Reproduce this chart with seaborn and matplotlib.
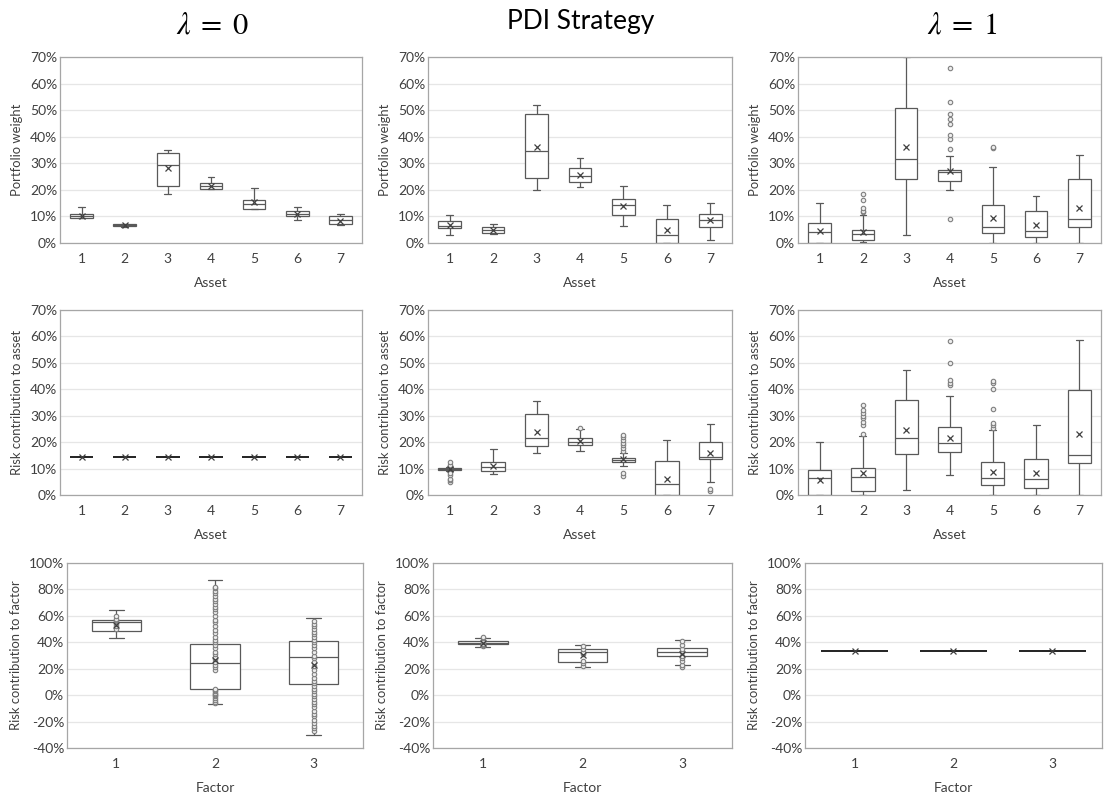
import numpy as np
import pandas as pd
import matplotlib
matplotlib.use("Agg")
import matplotlib.pyplot as plt
import seaborn as sns
from matplotlib.ticker import FuncFormatter, MultipleLocator

# ---------------- data (percent) ----------------
assets = ["1", "2", "3", "4", "5", "6", "7"]
factors = ["1", "2", "3"]

# five-number summaries per category: [whisker low, Q1, median, Q3, whisker high]
wt_lam0_box = [[9.3, 9.5, 10.0, 11.0, 13.4], [6.0, 6.4, 6.7, 7.0, 7.3], [18.4, 21.6, 29.4, 33.9, 35.1],
               [20.2, 20.4, 21.5, 22.6, 24.7], [12.7, 12.9, 14.8, 16.3, 20.7], [8.5, 10.0, 11.0, 12.0, 13.5],
               [6.8, 7.2, 8.5, 10.0, 11.0]]
wt_lam0_mean = [10.0, 6.7, 28.2, 21.5, 15.3, 10.8, 8.3]
wt_lam0_out = [[], [], [], [], [], [], []]

wt_pdi_box = [[3.0, 5.5, 6.5, 8.2, 10.5], [3.5, 3.8, 5.0, 5.9, 7.0], [20.0, 24.5, 34.6, 48.7, 51.9],
              [21.1, 23.1, 25.2, 28.1, 32.1], [6.3, 10.5, 14.3, 16.4, 21.5], [0.0, 0.0, 3.1, 9.0, 14.4],
              [1.1, 5.9, 8.5, 10.8, 15.0]]
wt_pdi_mean = [6.7, 5.0, 36.3, 25.7, 14.0, 4.8, 8.5]
wt_pdi_out = [[], [], [], [], [], [], []]

wt_lam1_box = [[0.0, 0.0, 4.1, 7.7, 15.0], [0.3, 1.0, 3.3, 5.0, 10.5], [3.0, 24.2, 31.5, 50.9, 70.0],
               [20.0, 23.3, 26.9, 27.6, 32.6], [0.0, 3.6, 5.9, 14.2, 28.5], [0.0, 2.3, 4.6, 12.0, 17.6],
               [0.0, 6.0, 9.0, 24.2, 33.2]]
wt_lam1_mean = [4.5, 4.3, 36.0, 27.2, 9.3, 6.6, 13.2]
wt_lam1_out = [[], [11.5, 12.0, 13.0, 16.0, 18.6], [],
               [9.2, 35.4, 39.0, 40.7, 44.8, 46.5, 48.6, 53.1, 65.9], [35.6, 36.2], [], []]

rc_lam0_box = [[14.29] * 5 for _ in assets]
rc_lam0_mean = [14.29] * 7
rc_lam0_out = [[], [], [], [], [], [], []]

rc_pdi_box = [[9.0, 9.4, 9.7, 10.1, 10.5], [8.1, 9.0, 10.7, 12.4, 17.5], [15.9, 18.5, 21.5, 30.5, 35.6],
              [16.5, 19.1, 20.2, 21.6, 24.9], [10.9, 12.4, 13.3, 14.1, 16.0], [0.0, 0.0, 4.1, 13.0, 21.0],
              [5.1, 13.5, 14.2, 20.0, 27.0]]
rc_pdi_mean = [9.7, 10.8, 24.0, 20.3, 13.6, 6.1, 15.9]
rc_pdi_out = [[5.0, 5.5, 6.0, 7.5, 8.5, 11.0, 11.5, 12.5], [], [], [25.5],
              [7.3, 8.5, 16.8, 17.8, 18.8, 19.8, 20.8, 21.8, 22.7], [], [1.5, 2.2]]

rc_lam1_box = [[0.0, 0.0, 6.5, 9.4, 20.0], [0.0, 1.5, 6.7, 10.1, 22.5], [1.9, 15.6, 21.5, 36.1, 47.2],
               [7.6, 16.3, 19.6, 25.8, 37.6], [0.0, 3.8, 6.3, 12.4, 24.6], [0.0, 2.8, 6.1, 13.8, 26.5],
               [0.0, 12.0, 15.3, 39.7, 58.7]]
rc_lam1_mean = [5.7, 8.4, 24.7, 21.5, 8.7, 8.2, 23.0]
rc_lam1_out = [[], [23.0, 26.5, 27.5, 29.0, 30.0, 31.0, 32.0, 34.0], [],
               [41.5, 42.5, 43.5, 49.9, 58.1], [25.5, 26.5, 27.2, 32.5, 40.1, 42.5, 43.3], [], []]

fc_lam0_box = [[43.5, 48.2, 55.5, 57.2, 64.5], [-6.5, 4.6, 24.3, 38.5, 87.5], [-29.9, 8.1, 28.9, 40.8, 58.2]]
fc_lam0_mean = [52.9, 26.6, 22.5]
fc_lam0_out = [[50, 52, 54, 56, 57, 58, 60],
               [-6, -5, -4, -2, -1, 0, 1, 2, 3, 4, 5, 19, 21, 23, 25, 27, 29, 31, 33, 36, 38, 40, 42, 44,
                47, 49, 52, 55, 57, 60, 63, 65, 67, 69, 71, 73, 75, 77, 79, 81, 82],
               [-27, -25, -23, -21, -19, -16, -14, -12, -9, -7, -5, -3, -1, 1, 3, 5, 7, 9, 11, 13, 16, 19,
                22, 25, 28, 30, 33, 36, 38, 40, 42, 44, 46, 48, 50, 52, 54, 56]]

fc_pdi_box = [[36.2, 38.6, 39.5, 40.6, 43.5], [21.5, 25.0, 32.4, 34.7, 38.2], [23.0, 29.6, 32.7, 35.9, 42.0]]
fc_pdi_mean = [39.5, 30.4, 31.5]
fc_pdi_out = [[37, 38, 39, 40, 41, 43, 44], [22, 24, 26, 31, 33, 35, 37], [21, 23, 26, 28, 30, 33, 35, 38, 41]]

fc_lam1_box = [[33.33] * 5 for _ in factors]
fc_lam1_mean = [33.33, 33.33, 33.33]
fc_lam1_out = [[], [], []]

titles = [r"$\lambda\;=\;0$", "PDI Strategy", r"$\lambda\;=\;1$"]

# ---------------- style ----------------
sns.set_style("white")
plt.rcParams["font.family"] = ["Lato", "DejaVu Sans"]
plt.rcParams["mathtext.fontset"] = "stix"

W, H = 1104, 798
fig = plt.figure(figsize=(W / 100, H / 100), dpi=100)


def pos(l, r, t, b):
    return [l / W, 1 - b / H, (r - l) / W, (b - t) / H]


LINE = "#595959"
TXT = "#404040"


def panel(rect, cats, box, means, outs, ylim, ystep, ylabel, xlabel, width, flat=False):
    ax = fig.add_axes(rect)
    rows = []
    for c, vals in zip(cats, box):
        for v in vals:
            rows.append((c, v))
    df = pd.DataFrame(rows, columns=["cat", "val"])
    sns.boxplot(data=df, x="cat", y="val", order=cats, whis=(0, 100), width=width,
                color="white", linecolor=("#262626" if flat else LINE),
                linewidth=(1.3 if flat else 0.9), showfliers=False,
                capwidths=width * 0.3, ax=ax)
    ox, oy = [], []
    for c, o in zip(cats, outs):
        for v in o:
            ox.append(c)
            oy.append(v)
    if ox:
        sns.stripplot(x=ox, y=oy, order=cats, jitter=False, size=3.2, color="#ededed",
                      edgecolor="#7f7f7f", linewidth=0.8, ax=ax, zorder=4)
    sns.pointplot(x=cats, y=means, order=cats, linestyle="none", marker="x", color=TXT,
                  markersize=5, markeredgewidth=0.9, errorbar=None, ax=ax, zorder=5)
    ax.set_ylim(*ylim)
    ax.set_xlim(-0.5, len(cats) - 0.5)
    ax.yaxis.set_major_locator(MultipleLocator(ystep))
    ax.yaxis.set_major_formatter(FuncFormatter(lambda v, p: f"{v:.0f}%"))
    ax.grid(axis="y", color="#e6e6e6", linewidth=0.9)
    ax.set_axisbelow(True)
    for s in ax.spines.values():
        s.set_color("#a6a6a6")
        s.set_linewidth(0.9)
        s.set_visible(True)
    ax.tick_params(length=0, labelsize=10, labelcolor=TXT)
    ax.tick_params(axis="y", pad=2)
    ax.tick_params(axis="x", pad=7)
    ax.set_ylabel(ylabel, fontsize=9.4, color=TXT, labelpad=5)
    ax.set_xlabel(xlabel, fontsize=10, color=TXT, labelpad=9)
    return ax


cols12 = [(60, 362), (428, 732), (798, 1101)]
cols3 = [(67, 363), (433, 732), (805, 1102)]

row1 = [(wt_lam0_box, wt_lam0_mean, wt_lam0_out), (wt_pdi_box, wt_pdi_mean, wt_pdi_out),
        (wt_lam1_box, wt_lam1_mean, wt_lam1_out)]
row2 = [(rc_lam0_box, rc_lam0_mean, rc_lam0_out), (rc_pdi_box, rc_pdi_mean, rc_pdi_out),
        (rc_lam1_box, rc_lam1_mean, rc_lam1_out)]
row3 = [(fc_lam0_box, fc_lam0_mean, fc_lam0_out), (fc_pdi_box, fc_pdi_mean, fc_pdi_out),
        (fc_lam1_box, fc_lam1_mean, fc_lam1_out)]

for i, (l, r) in enumerate(cols12):
    b, m, o = row1[i]
    panel(pos(l, r, 57, 243), assets, b, m, o, (0, 70), 10, "Portfolio weight", "Asset", 0.52)
    b, m, o = row2[i]
    panel(pos(l, r, 310, 495), assets, b, m, o, (0, 70), 10, "Risk contribution to asset", "Asset", 0.54,
          flat=(i == 0))
for i, (l, r) in enumerate(cols3):
    b, m, o = row3[i]
    w = 0.67 if i == 2 else 0.5
    panel(pos(l, r, 563, 748), factors, b, m, o, (-40, 100), 20, "Risk contribution to factor", "Factor", w,
          flat=(i == 2))

fig.text(212 / W, 1 - 24 / H, titles[0], fontsize=22, ha="center", va="center", color="black")
fig.text(581 / W, 1 - 22 / H, titles[1], fontsize=19, ha="center", va="center", color="black")
fig.text(962 / W, 1 - 24 / H, titles[2], fontsize=22, ha="center", va="center", color="black")

fig.savefig("out.png", dpi=100)
